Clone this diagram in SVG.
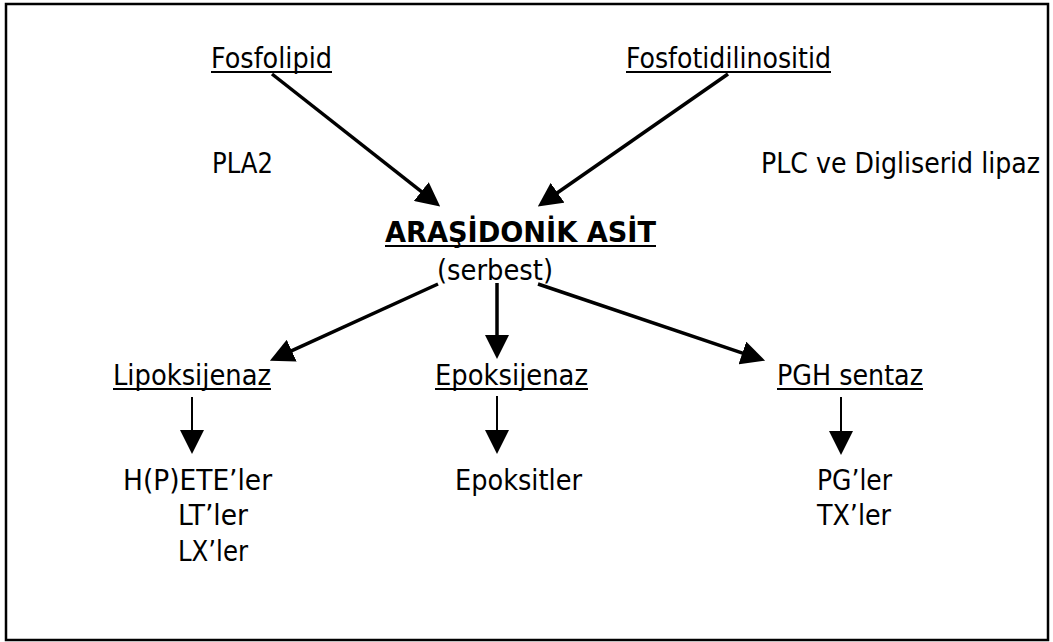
<svg xmlns="http://www.w3.org/2000/svg" width="1053" height="642" viewBox="0 0 1053 642">
<style>
  .t { font-family: "DejaVu Sans Condensed", "DejaVu Sans", sans-serif; font-size: 28px; fill: #000; }
  .b { font-weight: bold; }
  .ul { stroke: #000; stroke-width: 2; }
  .c { stroke: #000; fill: none; }
  .thick { stroke-width: 3.5; }
  .thin { stroke-width: 2; }
</style>
<defs>
  <marker id="ah" viewBox="0 -12 24 24" markerWidth="24" markerHeight="24" refX="1" refY="0" markerUnits="userSpaceOnUse" orient="auto">
    <path d="M0,-12 L24,0 L0,12 z" fill="#000"/>
  </marker>
</defs>
<rect x="0" y="0" width="1053" height="642" fill="#fff"/>
<rect x="6" y="4" width="1042" height="636" fill="none" stroke="#000" stroke-width="2.5"/>

<g id="connectors">
  <line class="c thick" x1="272" y1="74" x2="422.1" y2="192.2" marker-end="url(#ah)"/>
  <line class="c thick" x1="728" y1="74" x2="556.7" y2="193.3" marker-end="url(#ah)"/>
  <line class="c thick" x1="438" y1="284" x2="290.8" y2="351.1" marker-end="url(#ah)"/>
  <line class="c thick" x1="497" y1="283" x2="497" y2="336" marker-end="url(#ah)"/>
  <line class="c thick" x1="538" y1="284" x2="743.3" y2="353.3" marker-end="url(#ah)"/>
  <line class="c thin" x1="192" y1="397" x2="192" y2="431" marker-end="url(#ah)"/>
  <line class="c thin" x1="497" y1="396" x2="497" y2="431" marker-end="url(#ah)"/>
  <line class="c thin" x1="841" y1="397" x2="841" y2="432" marker-end="url(#ah)"/>
</g>

<g id="fosfolipid">
  <text class="t" x="211" y="68" textLength="121" lengthAdjust="spacingAndGlyphs">Fosfolipid</text>
  <line class="ul" x1="211" y1="72" x2="332" y2="72"/>
</g>
<g id="fosfotidilinositid">
  <text class="t" x="626" y="68" textLength="205" lengthAdjust="spacingAndGlyphs">Fosfotidilinositid</text>
  <line class="ul" x1="626" y1="72" x2="831" y2="72"/>
</g>
<g id="pla2">
  <text class="t" x="212" y="173" textLength="61" lengthAdjust="spacingAndGlyphs">PLA2</text>
</g>
<g id="plc">
  <text class="t" x="761" y="173" textLength="279" lengthAdjust="spacingAndGlyphs">PLC ve Digliserid lipaz</text>
</g>
<g id="arasidonik">
  <text class="t b" x="385" y="242" textLength="271" lengthAdjust="spacingAndGlyphs">ARAŞİDONİK ASİT</text>
  <line class="ul" x1="385" y1="246" x2="656" y2="246"/>
  <text class="t" x="437" y="280" textLength="116" lengthAdjust="spacingAndGlyphs">(serbest)</text>
</g>
<g id="lipoksijenaz">
  <text class="t" x="113" y="385" textLength="158" lengthAdjust="spacingAndGlyphs">Lipoksijenaz</text>
  <line class="ul" x1="113" y1="389" x2="271" y2="389"/>
</g>
<g id="epoksijenaz">
  <text class="t" x="435" y="385" textLength="153" lengthAdjust="spacingAndGlyphs">Epoksijenaz</text>
  <line class="ul" x1="435" y1="389" x2="588" y2="389"/>
</g>
<g id="pgh-sentaz">
  <text class="t" x="777" y="385" textLength="146" lengthAdjust="spacingAndGlyphs">PGH sentaz</text>
  <line class="ul" x1="777" y1="389" x2="923" y2="389"/>
</g>
<g id="lipo-products">
  <text class="t" x="123" y="490" textLength="149" lengthAdjust="spacingAndGlyphs">H(P)ETE’ler</text>
  <text class="t" x="178" y="525" textLength="70" lengthAdjust="spacingAndGlyphs">LT’ler</text>
  <text class="t" x="178" y="561" textLength="70" lengthAdjust="spacingAndGlyphs">LX’ler</text>
</g>
<g id="epoksitler">
  <text class="t" x="455" y="490" textLength="127" lengthAdjust="spacingAndGlyphs">Epoksitler</text>
</g>
<g id="pgh-products">
  <text class="t" x="817" y="490" textLength="75" lengthAdjust="spacingAndGlyphs">PG’ler</text>
  <text class="t" x="817" y="525" textLength="74" lengthAdjust="spacingAndGlyphs">TX’ler</text>
</g>
</svg>
